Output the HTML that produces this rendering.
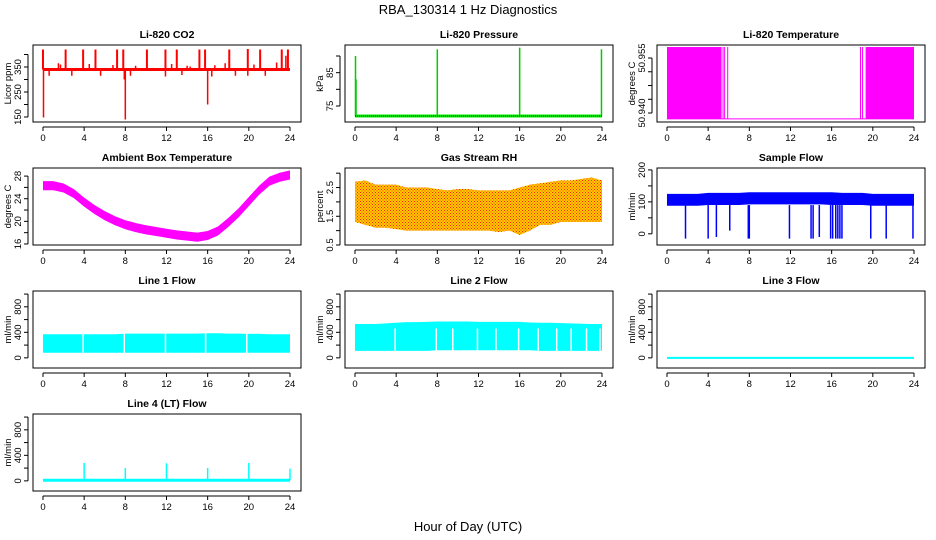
<!DOCTYPE html>
<html><head><meta charset="utf-8"><style>
html,body{margin:0;padding:0;background:#fff;}
svg{display:block;font-family:"Liberation Sans",sans-serif;}
</style></head><body>
<svg id="chart" width="936" height="540" viewBox="0 0 936 540">
<defs>
<pattern id="rhpat" width="3" height="3" patternUnits="userSpaceOnUse">
<rect width="3" height="3" fill="#ffcc00"/>
<rect x="0" y="0" width="1" height="1" fill="#ff2000"/>
<rect x="1.5" y="1.5" width="1" height="1" fill="#ff2000"/>
</pattern>
</defs>
<text x="468" y="14" text-anchor="middle" font-size="13">RBA_130314  1 Hz Diagnostics</text>
<text x="468" y="531" text-anchor="middle" font-size="13">Hour of Day (UTC)</text>
</svg>
<script>
// ---- data ----
const hours = [0,1,2,3,4,5,6,7,8,9,10,11,12,13,14,15,16,17,18,19,20,21,22,23,24];
const xTicks = [0,4,8,12,16,20,24];
const co2Base = 340;
const co2SpikeHours = [0,2.2,3.9,5.1,7.2,7.8,10.1,11.9,13.0,15.2,15.75,18.1,19.9,21.1,23.2,23.8];
const co2SpikeVals = [420,420,420,420,420,420,420,420,420,420,420,420,422,420,420,420];
const co2DipHours = [0.05,8.0,16.0,0.6,2.8,5.6,7.9,8.5,11.9,13.5,16.4,18.7,19.9,21.6];
const co2DipVals = [148,140,200,315,315,315,300,315,312,318,312,315,315,315];
const co2BumpHours = [1.5,1.7,4.5,6.8,9.0,12.5,14.0,14.3,16.7,17.7,20.5,22.7,23.6];
const co2BumpVals = [365,360,362,358,355,362,355,352,357,365,360,368,395];
const presBase = 72;
const presSpikeHours = [0.05,0.1,8.0,16.0,23.95];
const presSpikeVals = [90,83,92,92.5,92];
const tempLow = 50.9384, tempHigh = 50.958;
const tempBlocks = [[0,5.3],[19.3,24]];
const tempLines = [5.45,5.6,5.9,18.8,19.0];
const ambCenter = [26.3,26.3,25.9,24.9,23.4,22.1,21.0,20.1,19.4,18.9,18.5,18.2,17.9,17.6,17.4,17.2,17.5,18.3,19.8,21.5,23.5,25.5,27.1,27.8,28.2];
const rhLow = [1.3,1.2,1.1,1.1,1.05,1.0,1.0,1.0,1.0,1.0,1.0,1.0,1.0,1.0,0.95,1.0,0.85,1.0,1.2,1.2,1.3,1.3,1.3,1.3,1.3];
const rhHigh = [2.7,2.75,2.6,2.6,2.6,2.5,2.5,2.5,2.45,2.4,2.45,2.45,2.4,2.4,2.4,2.4,2.5,2.6,2.65,2.7,2.75,2.75,2.8,2.85,2.75];
const sfLow = [88,88,88,88,90,90,90,90,92,92,92,92,92,92,92,92,90,90,90,90,88,88,88,88,88];
const sfHigh = [125,125,125,125,128,128,128,128,130,130,130,130,130,130,130,130,130,128,128,128,125,125,125,125,125];
const sfDropHours = [1.8,4.0,4.8,6.1,7.9,8.0,11.9,14.0,14.2,14.8,15.9,16.1,16.4,16.6,16.8,17.0,19.8,21.3,23.9];
const sfDropVals = [-15,-15,-10,10,-15,-15,-15,-15,-15,-10,-15,-15,-15,-15,-15,-15,-15,-15,-15];
const l1Low = [80,80,80,80,80,80,80,80,80,80,80,80,80,80,80,80,80,80,80,80,80,80,80,80,80];
const l1High = [370,370,370,370,370,370,370,370,380,380,380,380,380,380,380,380,385,385,380,380,375,375,370,370,370];
const l1Gaps = [3.9,7.9,11.9,15.8,19.8];
const l2Low = [110,110,110,110,110,110,110,110,120,120,120,120,120,120,120,120,120,120,110,110,110,110,110,110,110];
const l2High = [530,530,530,540,550,560,560,565,570,570,570,570,565,565,565,565,565,555,550,550,545,540,535,530,530];
const l2Gaps = [3.9,7.9,9.5,11.9,13.7,15.9,17.8,19.6,21.0,22.5,23.8];
const l3Vals = [0,0];
const l4Base = 10;
const l4SpikeHours = [4.0,8.0,12.0,16.0,20.0,24.0];
const l4SpikeVals = [280,200,275,200,280,190];

// ---- layout ----
const svg = document.getElementById('chart');
const NS = 'http://www.w3.org/2000/svg';
const colX = [33,345,657], rowY = [45,168,291,414], W = 268, H = 77;
function el(tag, attrs, parent){const e=document.createElementNS(NS,tag);for(const k in attrs)e.setAttribute(k,attrs[k]);(parent||svg).appendChild(e);return e;}

function panel(name, c, r, title, ylab, ydom, ticks, labels){
  const g = el('g',{});
  
  
  const x0=colX[c], y0=rowY[r];
  const sx = v => x0 + (v + 0.97) / 26.04 * W;
  const sy = v => y0 + H - (v - ydom[0]) / (ydom[1]-ydom[0]) * H;
  const t = el('text',{x:x0+W/2,y:y0-7,'text-anchor':'middle','font-size':10.5,'font-weight':'bold'},g);
  t.textContent = title;
  
  
  const yl = el('text',{x:0,y:0,'text-anchor':'middle','font-size':9.5,transform:`translate(${x0-22},${y0+H/2}) rotate(-90)`},g);
  yl.textContent = ylab;
  
  
  el('line',{x1:sx(0),x2:sx(24),y1:y0+H+5,y2:y0+H+5,stroke:'#000','stroke-width':1},g);
  xTicks.forEach(v=>{
    el('line',{x1:sx(v),x2:sx(v),y1:y0+H+5,y2:y0+H+9,stroke:'#000'},g);
    const tl = el('text',{x:sx(v),y:y0+H+19,'text-anchor':'middle','font-size':9.5},g);
    tl.textContent = v;
    
    
  });
  el('line',{x1:x0-5,x2:x0-5,y1:sy(ticks[0]),y2:sy(ticks[ticks.length-1]),stroke:'#000'},g);
  ticks.forEach((v,i)=>{
    el('line',{x1:x0-9,x2:x0-5,y1:sy(v),y2:sy(v),stroke:'#000'},g);
    if(labels[i]!==''){
      const tl = el('text',{x:0,y:0,'text-anchor':'middle','font-size':9.5,transform:`translate(${x0-12},${sy(v)}) rotate(-90)`},g);
      tl.textContent = labels[i];
      
      
    }
  });
  const plot = el('g',{},g);
  
  
  el('rect',{x:x0,y:y0,width:W,height:H,fill:'none',stroke:'#000','stroke-width':1},g);
  return {sx,sy,plot};
}
function band(p, lo, hi, fill){
  let pts = hours.map((h,i)=>p.sx(h)+','+p.sy(hi[i]));
  pts = pts.concat(hours.slice().reverse().map((h,j)=>{const i=hours.length-1-j;return p.sx(h)+','+p.sy(lo[i]);}));
  el('polygon',{points:pts.join(' '),fill:fill},p.plot);
}
function vline(p, h, a, b, color, w){el('line',{x1:p.sx(h),x2:p.sx(h),y1:p.sy(a),y2:p.sy(b),stroke:color,'stroke-width':w||1.2},p.plot);}

// CO2
let p = panel('co2',0,0,'Li-820 CO2','Licor ppm',[130,438],[150,200,250,300,350,400],['150','','250','','350','']);
co2SpikeHours.forEach((h,i)=>vline(p,h,co2Base,co2SpikeVals[i],'#ff0000',2));
co2DipHours.forEach((h,i)=>vline(p,h,co2Base,co2DipVals[i],'#ff0000',1.5));
co2BumpHours.forEach((h,i)=>vline(p,h,co2Base,co2BumpVals[i],'#ff0000',1.5));
el('line',{x1:p.sx(0),x2:p.sx(24),y1:p.sy(co2Base),y2:p.sy(co2Base),stroke:'#ff0000','stroke-width':3},p.plot);

// Pressure
p = panel('pressure',1,0,'Li-820 Pressure','kPa',[70.2,93.3],[75,80,85,90],['75','','85','']);
presSpikeHours.forEach((h,i)=>vline(p,h,presBase,presSpikeVals[i],'#00cc00',1.5));
el('line',{x1:p.sx(0),x2:p.sx(24),y1:p.sy(presBase),y2:p.sy(presBase),stroke:'#00ee00','stroke-width':3},p.plot);
el('line',{x1:p.sx(0),x2:p.sx(24),y1:p.sy(presBase),y2:p.sy(presBase),stroke:'#000','stroke-width':1,'stroke-dasharray':'1,1'},p.plot);

// Temperature
p = panel('li820-temp',2,0,'Li-820 Temperature','degrees C',[50.93755,50.95855],[50.940,50.94375,50.9475,50.95125,50.955],['50.940','','','','50.955']);
tempBlocks.forEach(b=>el('rect',{x:p.sx(b[0]),y:p.sy(tempHigh),width:p.sx(b[1])-p.sx(b[0]),height:p.sy(tempLow)-p.sy(tempHigh),fill:'#ff00ff'},p.plot));
tempLines.forEach(h=>vline(p,h,tempLow,tempHigh,'#ff00ff',1));
el('line',{x1:p.sx(0),x2:p.sx(24),y1:p.sy(tempLow),y2:p.sy(tempLow),stroke:'#ff00ff','stroke-width':1},p.plot);

// Ambient
p = panel('ambient-temp',0,1,'Ambient Box Temperature','degrees C',[15.82,29.43],[16,18,20,22,24,26,28],['16','','20','','24','','28']);
band(p, ambCenter.map(v=>v-0.8), ambCenter.map(v=>v+0.8), '#ff00ff');

// RH
p = panel('gas-rh',1,1,'Gas Stream RH','percent',[0.5,3.18],[0.5,1,1.5,2,2.5,3],['0.5','','1.5','','2.5','']);
band(p, rhLow, rhHigh, 'url(#rhpat)');

// Sample flow
p = panel('sample-flow',2,1,'Sample Flow','ml/min',[-35,206],[0,50,100,150,200],['0','','100','','200']);
band(p, sfLow, sfHigh, '#0000ff');
sfDropHours.forEach((h,i)=>vline(p,h,90,sfDropVals[i],'#0000ff',1.5));

const flowDom=[-159,1048], flowTicks=[0,200,400,600,800,1000], flowLabels=['0','','400','','800',''];
p = panel('line1-flow',0,2,'Line 1 Flow','ml/min',flowDom,flowTicks,flowLabels);
band(p, l1Low, l1High, '#00ffff');
l1Gaps.forEach(h=>vline(p,h,l1Low[0]-5,l1High[0]+20,'#ffffff',1.5));
p = panel('line2-flow',1,2,'Line 2 Flow','ml/min',flowDom,flowTicks,flowLabels);
band(p, l2Low, l2High, '#00ffff');
l2Gaps.forEach(h=>vline(p,h,l2Low[0]-5,460,'#ffffff',1.5));
p = panel('line3-flow',2,2,'Line 3 Flow','ml/min',flowDom,flowTicks,flowLabels);
el('line',{x1:p.sx(0),x2:p.sx(24),y1:p.sy(l3Vals[0]),y2:p.sy(l3Vals[1]),stroke:'#00ffff','stroke-width':2},p.plot);
p = panel('line4-flow',0,3,'Line 4 (LT) Flow','ml/min',flowDom,flowTicks,flowLabels);
el('line',{x1:p.sx(0),x2:p.sx(24),y1:p.sy(l4Base),y2:p.sy(l4Base),stroke:'#00ffff','stroke-width':3},p.plot);
l4SpikeHours.forEach((h,i)=>vline(p,h,l4Base,l4SpikeVals[i],'#00ffff',1.5));
</script>
</body></html>
